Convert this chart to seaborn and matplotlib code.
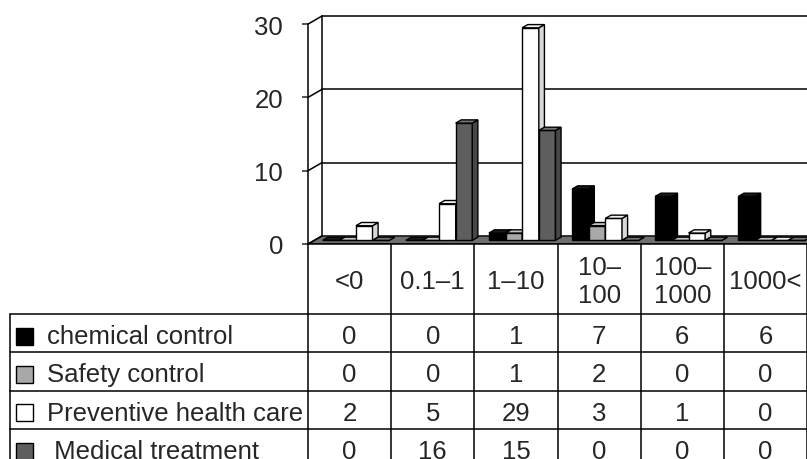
import numpy as np
import pandas as pd
import matplotlib
matplotlib.use("Agg")
import matplotlib.pyplot as plt
import seaborn as sns
from matplotlib.patches import Polygon, Rectangle

# data
categories = ["<0", "0.1–1", "1–10", "10–100", "100–1000", "1000<"]
header_labels = ["<0", "0.1–1", "1–10", "10–\n100", "100–\n1000", "1000<"]
series_names = ["chemical control", "Safety control", "Preventive health care", "Medical treatment"]
row_labels = ["chemical control", "Safety control", "Preventive health care", " Medical treatment"]
chemical = [0, 0, 1, 7, 6, 6]
safety = [0, 0, 1, 2, 0, 0]
preventive = [2, 5, 29, 3, 1, 0]
medical = [0, 16, 15, 0, 0, 0]
yticks = [0, 10, 20, 30]

colors = ["#000000", "#a8a8a8", "#ffffff", "#5e5e5e"]
side_colors = ["#000000", "#8a8a8a", "#d8d8d8", "#474747"]
top_colors = ["#1a1a1a", "#c4c4c4", "#f2f2f2", "#757575"]

wide = pd.DataFrame(
    {"chemical control": chemical, "Safety control": safety,
     "Preventive health care": preventive, "Medical treatment": medical},
    index=categories,
)
df = wide.reset_index(names="range").melt(id_vars="range", var_name="series", value_name="count")

sns.set_style("white")
plt.rcParams["font.family"] = ["Liberation Sans", "DejaVu Sans"]
FS = 18.5

W, H = 807, 460
fig = plt.figure(figsize=(W / 100, H / 100), dpi=100)

# table underneath, in pixel units
tab = fig.add_axes([0, 0, 1, 1])
tab.set_xlim(0, W)
tab.set_ylim(H, 0)
tab.axis("off")

# chart axes
x0_px, y0_px, px_per_unit = 308, 245, 7.33
ytop = 31.3
ax = fig.add_axes([x0_px / W, (H - y0_px) / H, (W - x0_px) / W, ytop * px_per_unit / H])
ax.patch.set_alpha(0)

sns.barplot(data=df, x="range", y="count", hue="series", order=categories,
            hue_order=series_names, palette=colors, saturation=1, width=0.8,
            edgecolor="black", linewidth=1.0, legend=False, ax=ax)

DX, DY = 0.168, 1.1      # depth of the wall / floor
f0, f1 = 0.45, 0.85      # bar depth range as fraction of depth

# floor and back wall
ax.add_patch(Polygon([(-0.5, 0), (-0.5 + DX, DY), (5.5 + DX, DY), (5.5, 0)],
                     closed=True, fc="#6e6e6e", ec="black", lw=1.0, zorder=1))
ax.plot([-0.5 + DX, -0.5 + DX], [DY, 30 + DY], color="black", lw=1.1, zorder=1)
for v in yticks:
    ax.plot([-0.5, -0.5 + DX], [v, v + DY], color="black", lw=1.1, zorder=1, clip_on=False)
    if v > 0:
        ax.plot([-0.5 + DX, 5.5 + DX], [v + DY, v + DY], color="black", lw=1.1, zorder=1)

# turn the flat bars into 3D columns
bars = []
for cont, c, sc, tc in zip(ax.containers, colors, side_colors, top_colors):
    for bar in cont:
        bars.append((bar, sc, tc))
bars.sort(key=lambda b: b[0].get_x())
bdx, bdy = (f1 - f0) * DX, (f1 - f0) * DY
for k, (bar, sc, tc) in enumerate(bars):
    z = 3 + 0.01 * k
    x = bar.get_x() + f0 * DX
    yb = f0 * DY
    w, h = bar.get_width(), bar.get_height()
    bar.set_x(x)
    bar.set_y(yb)
    bar.set_zorder(z)
    ax.add_patch(Polygon([(x + w, yb), (x + w + bdx, yb + bdy), (x + w + bdx, yb + h + bdy), (x + w, yb + h)],
                         closed=True, fc=sc, ec="black", lw=1.0, zorder=z))
    ax.add_patch(Polygon([(x, yb + h), (x + bdx, yb + h + bdy), (x + w + bdx, yb + h + bdy), (x + w, yb + h)],
                         closed=True, fc=tc, ec="black", lw=1.0, zorder=z))

ax.set_xlim(-0.5, 5.5)
ax.set_ylim(0, ytop)
ax.set_xticks([])
ax.set_yticks(yticks)
ax.set_xlabel("")
ax.set_ylabel("")
ax.tick_params(axis="y", left=True, direction="out", length=4, width=1.1, pad=14, labelsize=FS)
for s in ["top", "right"]:
    ax.spines[s].set_visible(False)
ax.spines["left"].set_bounds(0, 30)
for s in ["left", "bottom"]:
    ax.spines[s].set_linewidth(1.1)
    ax.spines[s].set_color("black")

# data table
col_w = (W - x0_px) / len(categories)
col_edges = x0_px + col_w * np.arange(len(categories) + 1)
head_bottom = 315
row_h = 38.3
row_edges = head_bottom + row_h * np.arange(len(row_labels) + 1)
lbl_left = 10
lw = 1.1

for xe in col_edges:
    tab.plot([xe, xe], [y0_px, H + 10], color="black", lw=lw)
tab.plot([lbl_left, lbl_left], [head_bottom, H + 10], color="black", lw=lw)
for ye in row_edges:
    tab.plot([lbl_left, W], [ye, ye], color="black", lw=lw)

for i, lab in enumerate(header_labels):
    tab.text(col_edges[i] + col_w / 2, (y0_px + head_bottom) / 2 + 2, lab,
             ha="center", va="center", fontsize=FS, linespacing=1.2)

table_rows = [chemical, safety, preventive, medical]
for r, (lab, vals) in enumerate(zip(row_labels, table_rows)):
    yc = row_edges[r] + row_h / 2 + 3
    tab.add_patch(Rectangle((16, yc - 8.5), 17, 17, fc=colors[r], ec="black", lw=1.0))
    tab.text(47, yc, lab, ha="left", va="center", fontsize=FS)
    for i, v in enumerate(vals):
        tab.text(col_edges[i] + col_w / 2, yc, str(v), ha="center", va="center", fontsize=FS)

fig.savefig("out.png", dpi=100)
